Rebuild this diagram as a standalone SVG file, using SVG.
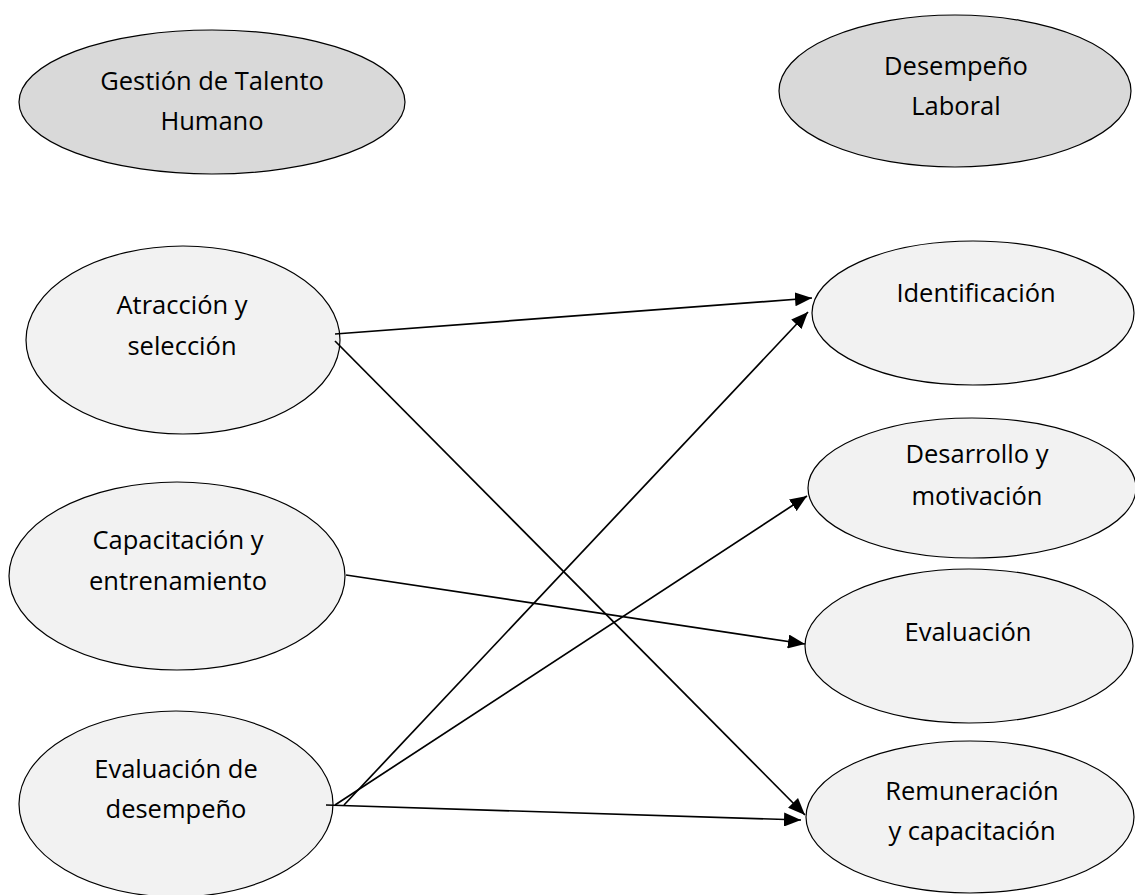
<svg xmlns="http://www.w3.org/2000/svg" width="1135" height="895" viewBox="0 0 1135 895">
<style>
.head{fill:#d9d9d9;stroke:#000;stroke-width:1.2}
.node{fill:#f2f2f2;stroke:#000;stroke-width:1.2}
.lbl{font-family:"Open Sans","Noto Sans",sans-serif;font-size:25.5px;fill:#000;text-anchor:middle}
.conn{stroke:#000;stroke-width:1.7;fill:none;marker-end:url(#arr)}
</style>
<defs>
<marker id="arr" markerUnits="userSpaceOnUse" markerWidth="18" markerHeight="14" refX="17" refY="7" orient="auto">
<path d="M0,0 L17,7 L0,14 Z" fill="#000"/>
</marker>
</defs>
<rect width="1135" height="895" fill="#fff"/>
<g id="gestion">
<ellipse class="head" cx="212" cy="102" rx="193" ry="72"/>
<text class="lbl" x="212" y="90">Gestión de Talento</text>
<text class="lbl" x="212" y="130">Humano</text>
</g>
<g id="desempeno">
<ellipse class="head" cx="955" cy="91" rx="176" ry="76"/>
<text class="lbl" x="956" y="75">Desempeño</text>
<text class="lbl" x="956" y="115">Laboral</text>
</g>
<g id="atraccion">
<ellipse class="node" cx="183" cy="340" rx="157" ry="94"/>
<text class="lbl" x="182" y="314">Atracción y</text>
<text class="lbl" x="182" y="355">selección</text>
</g>
<g id="capacitacion">
<ellipse class="node" cx="177" cy="576" rx="168" ry="94"/>
<text class="lbl" x="178" y="549">Capacitación y</text>
<text class="lbl" x="178" y="590">entrenamiento</text>
</g>
<g id="evaldesempeno">
<ellipse class="node" cx="176" cy="804" rx="157" ry="93"/>
<text class="lbl" x="176" y="778">Evaluación de</text>
<text class="lbl" x="176" y="818">desempeño</text>
</g>
<g id="identificacion">
<ellipse class="node" cx="973" cy="313" rx="161" ry="72"/>
<text class="lbl" x="976" y="302">Identificación</text>
</g>
<g id="desarrollo">
<ellipse class="node" cx="972" cy="488" rx="164" ry="70"/>
<text class="lbl" x="977" y="463">Desarrollo y</text>
<text class="lbl" x="977" y="505">motivación</text>
</g>
<g id="evaluacion">
<ellipse class="node" cx="969" cy="646" rx="164" ry="77"/>
<text class="lbl" x="968" y="641">Evaluación</text>
</g>
<g id="remuneracion">
<ellipse class="node" cx="970" cy="817" rx="164" ry="76"/>
<text class="lbl" x="972" y="800">Remuneración</text>
<text class="lbl" x="972" y="840">y capacitación</text>
</g>
<g id="connectors">
<line class="conn" x1="335" y1="334" x2="812" y2="298"/>
<line class="conn" x1="335" y1="341" x2="805" y2="815"/>
<line class="conn" x1="346" y1="575" x2="805" y2="644"/>
<line class="conn" x1="344" y1="805" x2="808" y2="312"/>
<line class="conn" x1="335" y1="805" x2="807" y2="496"/>
<line class="conn" x1="326" y1="805" x2="801" y2="820"/>
</g>
</svg>
